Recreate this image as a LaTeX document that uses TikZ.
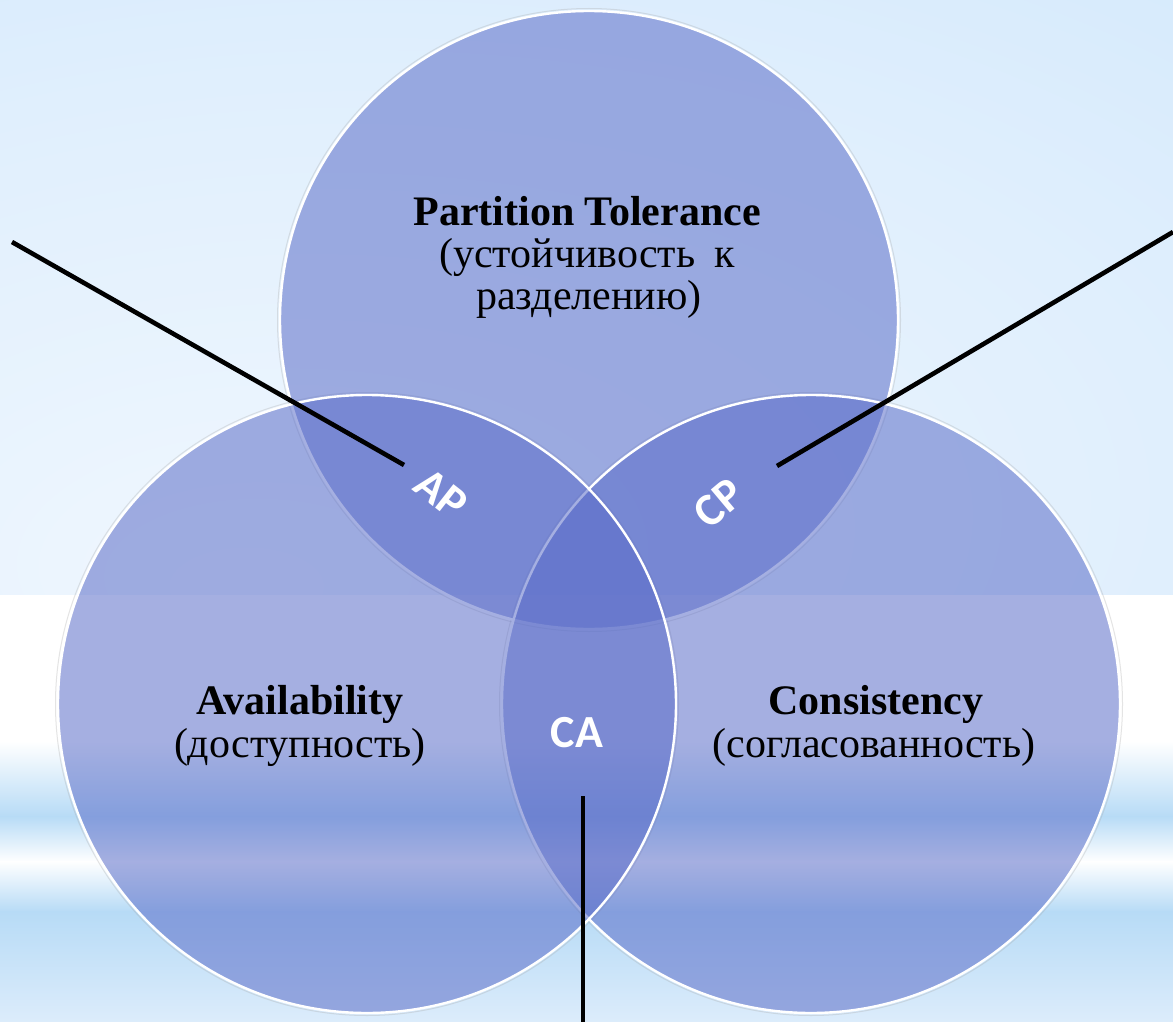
\documentclass[tikz,border=0pt]{standalone}
\usepackage{fontspec}
\setmainfont{Liberation Serif}
\newfontfamily\pairfont{Carlito}

% palette
\definecolor{vennblue}{RGB}{90,108,200}
\definecolor{glowin}{RGB}{240,247,254}
\definecolor{glowmid}{RGB}{224,239,253}
\definecolor{glowout}{RGB}{206,230,251}
\definecolor{glowedge}{RGB}{196,224,250}
\definecolor{bandblue}{RGB}{183,219,246}
\definecolor{bandlow}{RGB}{220,236,251}

\pgfdeclareradialshading{skyglow}{\pgfpoint{-15bp}{-25bp}}{%
  color(0bp)=(glowin); color(35bp)=(glowmid); color(65bp)=(glowout); color(100bp)=(glowedge)}

\begin{document}
\begin{tikzpicture}[x=1pt,y=-1pt,
  venn/.style={fill=vennblue, fill opacity=0.54, draw=white, line width=2.4pt},
  halo/.style={draw=black!35, draw opacity=0.3, line width=1pt},
  heading/.style={anchor=base, inner sep=0pt, font=\fontsize{42}{48}\selectfont\bfseries},
  gloss/.style={anchor=base, inner sep=0pt, font=\fontsize{42}{48}\selectfont},
  pair/.style={inner sep=0pt, text=white, font=\pairfont\bfseries\fontsize{46}{46}\selectfont},
  leader/.style={draw=black, line width=4.6pt}]

\useasboundingbox (0,0) rectangle (1173,1022);

% backdrop: sky glow above, horizontal stripes below
\shade[shading=skyglow] (0,0) rectangle (1173,596);
\fill[white] (0,595) rectangle (1173,742);
\shade[top color=white, bottom color=bandblue] (0,741) rectangle (1173,817);
\shade[top color=bandblue, bottom color=white] (0,816) rectangle (1173,862);
\shade[top color=white, bottom color=bandblue] (0,861) rectangle (1173,912);
\shade[top color=bandblue, bottom color=bandlow] (0,911) rectangle (1173,1022);

% circle centres
\coordinate (cP) at (589,320);
\coordinate (cA) at (367,704);
\coordinate (cC) at (811,704);

% soft rims
\foreach \c in {cP,cA,cC} \draw[halo] (\c) circle[radius=311.5pt];

% the three sets
\draw[venn] (cP) circle[radius=309pt];
\draw[venn] (cC) circle[radius=309pt];
\draw[venn] (cA) circle[radius=309pt];

% set names
\node[heading] (ptName) at (587,225) {Partition Tolerance};
\node[gloss] (ptGloss1) at (587,267) {(устойчивость\hspace{0.45em}к};
\node[gloss] (ptGloss2) at (589,309) {разделению)};

\node[heading] (avName) at (300,714) {Availability};
\node[gloss] (avGloss) at (300,757) {(доступность)};

\node[heading] (csName) at (876,714) {Consistency};
\node[gloss] (csGloss) at (874,757) {(согласованность)};

% pairwise intersections
\node[pair, rotate=-38] (ap) at (441,494) {AP};
\node[pair, rotate=40] (cp) at (719,503) {CP};
\node[pair] (ca) at (577,733) {CA};

% leader lines
\coordinate (apFree) at (12,242);
\coordinate (apTip) at (404,465);
\coordinate (cpFree) at (1173,232);
\coordinate (cpTip) at (777,466);
\coordinate (caFree) at (583,1022);
\coordinate (caTip) at (583,796);

\draw[leader] (apFree) -- (apTip);
\draw[leader] (cpFree) -- (cpTip);
\draw[leader] (caFree) -- (caTip);

\end{tikzpicture}
\end{document}
